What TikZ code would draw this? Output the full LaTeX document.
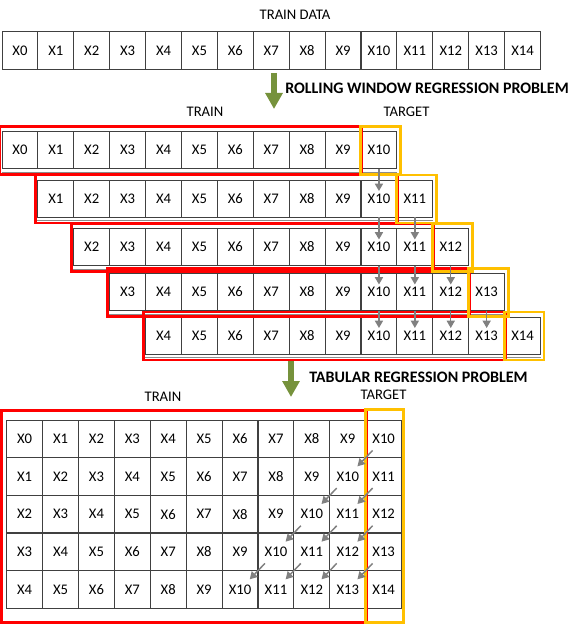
\documentclass[tikz,border=0pt]{standalone}
\usepackage{fontspec}
\setmainfont{Carlito}
\usetikzlibrary{arrows.meta}
\usetikzlibrary{positioning}
\usetikzlibrary{calc}

\definecolor{boxred}{RGB}{255,0,0}
\definecolor{boxgold}{RGB}{255,192,0}
\definecolor{arrowgreen}{RGB}{118,146,60}
\definecolor{arrowgray}{RGB}{128,128,128}

\begin{document}
\begin{tikzpicture}[x=0.75pt,y=-0.75pt,
  cell node/.style={rectangle,draw=black!75,line width=0.75pt,minimum width=26.9pt,minimum height=28.2pt,inner sep=0pt,font=\fontsize{11}{13}\selectfont},
  label node/.style={inner sep=0pt,font=\fontsize{11}{13}\selectfont},
  title node/.style={inner sep=0pt,anchor=west,font=\fontsize{12}{14}\selectfont\bfseries}]

  \useasboundingbox (0,0) rectangle (576,624);

  \tikzstyle{train box} = [draw=boxred,line width=2.2pt]
  \tikzstyle{target box} = [draw=boxgold,line width=2.2pt]
  \tikzstyle{big arrow} = [draw=arrowgreen,line width=3.9pt,-{Triangle[length=12pt,width=12.5pt]}]
  \tikzstyle{copy arrow} = [draw=arrowgray,line width=1.1pt,-{Triangle[length=5.5pt,width=6pt]}]

  % train data
  \node[label node] (TD) at (295,15) {TRAIN DATA};
  \foreach \c in {0,...,14}
    \node[cell node] (T\c) at ({19.95+35.9*\c},50.5) {X\c};

  \coordinate (G1a) at (274,73);
  \coordinate (G1b) at (274,109);
  \draw[big arrow] (G1a) -- (G1b);
  \node[title node] (RW) at (285,88) {ROLLING WINDOW REGRESSION PROBLEM};

  % rolling windows
  \node[label node] (RT) at (205,112) {TRAIN};
  \node[label node] (RG) at (406.5,112) {TARGET};
  \foreach \r/\y in {0/150,1/198.5,2/247,3/292,4/335.5} {
    \pgfmathtruncatemacro{\last}{\r+10}
    \foreach \c in {\r,...,\last}
      \node[cell node,minimum height=27.75pt] (R\r-\c) at ({19.95+35.9*\c},\y) {X\c};
    \draw[black!45,line width=0.75pt] ($(R\r-\r.south west)+(0,3)$) -- ($(R\r-\last.south east)+(0,3)$);
  }
  \foreach \r in {0,...,4} {
    \pgfmathtruncatemacro{\nine}{\r+9}
    \draw[train box] ($(R\r-\r.north west)+(-1.5,-4.5)$) rectangle ($(R\r-\nine.south east)+(0,5.5)$);
  }
  \foreach \r in {0,...,4} {
    \pgfmathtruncatemacro{\ten}{\r+10}
    \draw[target box] ($(R\r-\ten.north west)+(0,-4.5)$) rectangle ($(R\r-\ten.south east)+(3,5.5)$);
  }
  \foreach \r in {0,...,3} {
    \pgfmathtruncatemacro{\n}{\r+1}
    \pgfmathtruncatemacro{\ten}{\r+10}
    \foreach \c in {10,...,\ten}
      \draw[copy arrow,shorten <=14pt,shorten >=5.6pt] (R\r-\c.center) -- (R\n-\c.center);
  }

  \coordinate (G2a) at (291,361);
  \coordinate (G2b) at (291,397);
  \draw[big arrow] (G2a) -- (G2b);
  \node[title node] (TR) at (309,377) {TABULAR REGRESSION PROBLEM};

  % tabular
  \node[label node] (BT) at (163,397) {TRAIN};
  \node[label node] (BG) at (383.5,395) {TARGET};
  \foreach \r in {0,...,4}
    \foreach \c in {0,...,10} {
      \pgfmathtruncatemacro{\v}{\r+\c}
      \node[cell node] (B\r-\c) at ({24.65+35.9*\c},{438.83+37.66*\r}) {X\v};
    }
  \draw[train box] ($(B0-0.north west)+(-4.7,-9.3)$) rectangle ($(B4-9.south east)+(0,13.4)$);
  \draw[target box] ($(B0-10.north west)+(0,-10)$) rectangle ($(B4-10.south east)+(1.3,13.7)$);
  \foreach \r in {0,...,3} {
    \pgfmathtruncatemacro{\n}{\r+1}
    \pgfmathtruncatemacro{\first}{10-\r}
    \foreach \c in {\first,...,10} {
      \pgfmathtruncatemacro{\p}{\c-1}
      \draw[copy arrow,shorten <=12pt,shorten >=10.5pt] (B\r-\c.center) -- (B\n-\p.center);
    }
  }

\end{tikzpicture}
\end{document}
